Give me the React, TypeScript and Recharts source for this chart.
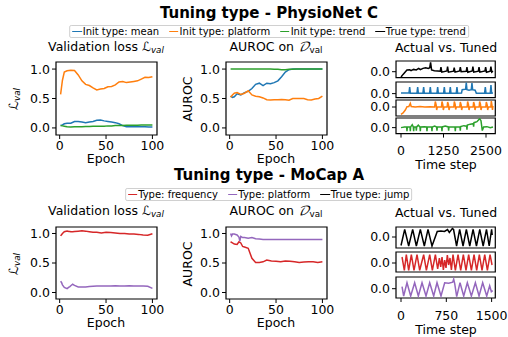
import React from "react";
import { LineChart, Line, XAxis, YAxis, ReferenceArea } from "recharts";

const FONT = "'DejaVu Sans', sans-serif";

const BLUE = "#1f77b4";
const ORANGE = "#ff7f0e";
const GREEN = "#2ca02c";
const RED = "#d62728";
const PURPLE = "#9467bd";
const BLACK = "#000000";

// ---- PhysioNet C: training curves ----
const PHYSIO_EPOCHS = [1, 3, 5, 8, 12, 16, 20, 24, 28, 32, 36, 40, 44, 48, 52, 56, 60, 64, 68, 72, 76, 80, 84, 88, 92, 96, 100];
const PHYSIO_LOSS_MEAN = [0.04, 0.05, 0.07, 0.08, 0.08, 0.11, 0.11, 0.1, 0.09, 0.1, 0.11, 0.13, 0.135, 0.12, 0.11, 0.1, 0.09, 0.07, 0.04, 0.02, 0.02, 0.02, 0.02, 0.02, 0.02, 0.015, 0.015];
const PHYSIO_LOSS_PLATFORM = [0.57, 0.81, 0.95, 0.97, 0.98, 0.975, 0.9, 0.8, 0.74, 0.72, 0.68, 0.645, 0.66, 0.67, 0.7, 0.705, 0.73, 0.78, 0.79, 0.77, 0.78, 0.79, 0.8, 0.83, 0.86, 0.855, 0.87];
const PHYSIO_LOSS_TREND = [0.04, 0.035, 0.03, 0.02, 0.015, 0.02, 0.02, 0.02, 0.025, 0.025, 0.03, 0.03, 0.03, 0.03, 0.035, 0.035, 0.04, 0.04, 0.04, 0.045, 0.045, 0.045, 0.045, 0.05, 0.05, 0.05, 0.05];
const PHYSIO_AUROC_MEAN = [0.54, 0.52, 0.53, 0.58, 0.56, 0.6, 0.62, 0.67, 0.74, 0.76, 0.72, 0.76, 0.75, 0.77, 0.8, 0.87, 0.95, 0.99, 1.0, 1.0, 1.0, 1.0, 1.0, 1.0, 1.0, 1.0, 1.0];
const PHYSIO_AUROC_PLATFORM = [0.52, 0.56, 0.59, 0.6, 0.57, 0.59, 0.63, 0.56, 0.54, 0.53, 0.51, 0.48, 0.475, 0.48, 0.48, 0.485, 0.48, 0.47, 0.5, 0.5, 0.5, 0.5, 0.48, 0.475, 0.49, 0.5, 0.54];
const PHYSIO_AUROC_TREND = [1, 1, 1, 1, 1, 1, 1, 1, 1, 1, 1, 1, 1, 0.995, 0.995, 0.99, 0.99, 0.995, 0.995, 1, 1, 1, 1, 1, 1, 1, 1];

// ---- PhysioNet C: actual vs tuned series, [time step, value] ----
const PHYSIO_TRUE_TREND: [number, number][] = [
  [0, -0.53], [60, -0.27], [130, 0], [175, 0.17], [255, 0.2], [295, 0.1], [370, 0.23], [450, 0.17], [520, 0.33], [570, 0.2],
  [645, 0.33], [725, 0.4], [805, 0.33], [845, 0.4], [870, 0.93], [900, 0.17], [980, 0.1], [1080, 0.07],
  [1155, 0.05], [1175, 0.45], [1200, -0.05], [1350, 0.07], [1370, 0.5], [1395, -0.05], [1545, 0.05], [1565, 0.4], [1590, -0.05],
  [1725, 0.07], [1745, 0.45], [1770, 0], [1920, 0.05], [1940, 0.45], [1965, -0.05], [2095, 0.07], [2115, 0.5], [2140, -0.05],
  [2275, 0.05], [2295, 0.45], [2320, -0.05], [2470, 0.07], [2490, 0.45], [2515, -0.05], [2625, 0.05], [2645, 0.5], [2670, -0.05], [2705, 0.05],
];
const PHYSIO_TUNED_MEAN: [number, number][] = [
  [0, 0.07], [235, 0.07], [255, 0.67], [275, 0.05], [470, 0.07], [490, 0.67], [510, 0.05], [646, 0.07], [666, 0.67], [686, 0.05],
  [842, 0.07], [862, 0.67], [882, 0.05], [1058, 0.07], [1078, 0.67], [1098, 0.05], [1254, 0.07], [1274, 0.67], [1294, 0.05],
  [1430, 0.07], [1450, 0.67], [1470, 0.05], [1626, 0.07], [1646, 0.67], [1666, 0.05], [1780, 0.07], [1800, 0.4], [1900, 0.45],
  [1920, 1.1], [1940, 0.4], [2000, 0.35], [2067, 0.4], [2087, 1.05], [2107, 0.4], [2180, 0.35], [2215, 0.05], [2460, 0.07],
  [2480, 0.67], [2500, 0.05], [2626, 0.07], [2646, 0.85], [2666, 0.05], [2705, 0.07],
];
const PHYSIO_TUNED_PLATFORM: [number, number][] = [
  [0, -0.73], [60, -0.6], [127, -0.3], [176, 0.03], [230, 0.05], [274, 0.37], [300, 0.05], [420, 0], [560, 0.04], [700, 0], [850, 0.03], [990, 0],
  [1009, 0.55], [1034, 0.2], [1049, -0.3], [1069, 0],
  [1190, 0], [1205, 0.55], [1230, 0.2], [1245, -0.3], [1265, 0],
  [1357, 0], [1372, 0.5], [1397, 0.2], [1412, -0.3], [1432, 0],
  [1553, 0], [1568, 0.55], [1593, 0.25], [1608, -0.25], [1628, 0],
  [1729, 0], [1744, 0.5], [1769, 0.2], [1784, -0.3], [1804, 0],
  [1945, 0], [1960, 0.55], [1985, 0.2], [2000, -0.3], [2020, 0],
  [2121, 0], [2136, 0.5], [2161, 0.2], [2176, -0.3], [2196, 0],
  [2298, 0], [2313, 0.55], [2338, 0.25], [2353, -0.3], [2373, 0],
  [2494, 0], [2509, 0.5], [2534, 0.2], [2549, -0.3], [2569, 0],
  [2641, 0], [2656, 0.6], [2675, 0.2], [2690, -0.3], [2705, 0.1],
];
const PHYSIO_TUNED_TREND: [number, number][] = [
  [0, 0], [100, 0.07], [166, 0.07], [176, -0.37], [186, 0.07], [264, 0.07], [274, -0.35], [284, 0.07], [330, 0.3],
  [362, 0.07], [372, -0.37], [382, 0.07], [441, 0.07], [451, -0.3], [461, 0.07], [510, 0.25], [558, 0.07], [568, -0.37], [578, 0.07],
  [680, 0.1], [754, 0.07], [764, -0.35], [774, 0.07], [901, 0.07], [911, -0.37], [921, 0.07], [990, 0.15],
  [1048, 0.07], [1058, -0.3], [1068, 0.07], [1195, 0.07], [1205, -0.37], [1215, 0.07], [1300, 0.15],
  [1391, 0.07], [1401, -0.3], [1411, 0.07], [1587, 0.07], [1597, -0.35], [1607, 0.07], [1734, 0.07], [1744, -0.3], [1754, 0.1],
  [1850, 0.2], [1930, 0.15], [1940, -0.2], [1950, 0.25], [2038, 0.35], [2126, 0.4], [2136, 0.1], [2146, 0.5], [2234, 0.6],
  [2313, 0.9], [2352, 0.7], [2391, -0.3], [2430, 0.07], [2528, 0.1], [2626, 0], [2705, 0.07],
];

// ---- MoCap A: training curves ----
const MOCAP_EPOCHS = [1, 2, 3, 5, 8, 10, 11, 12, 14, 16, 20, 24, 28, 32, 36, 40, 45, 50, 55, 60, 65, 70, 75, 80, 85, 90, 95, 100];
const MOCAP_LOSS_FREQUENCY = [0.96, 0.98, 1.0, 1.03, 1.04, 1.035, 1.035, 1.03, 1.03, 1.035, 1.04, 1.045, 1.04, 1.03, 1.02, 1.02, 1.01, 1.02, 1.015, 1.01, 1.0, 1.0, 0.99, 0.99, 0.985, 0.975, 0.97, 0.995];
const MOCAP_LOSS_PLATFORM = [0.19, 0.17, 0.13, 0.085, 0.065, 0.09, 0.1, 0.115, 0.14, 0.12, 0.095, 0.095, 0.095, 0.1, 0.105, 0.11, 0.11, 0.11, 0.11, 0.115, 0.11, 0.11, 0.115, 0.11, 0.11, 0.11, 0.105, 0.07];
const MOCAP_AUROC_FREQUENCY = [0.86, 0.85, 0.84, 0.82, 0.815, 0.86, 0.85, 0.84, 0.78, 0.77, 0.75, 0.58, 0.51, 0.51, 0.52, 0.55, 0.535, 0.53, 0.52, 0.535, 0.53, 0.52, 0.51, 0.515, 0.52, 0.52, 0.51, 0.52];
const MOCAP_AUROC_PLATFORM = [1.0, 0.96, 0.99, 0.99, 0.975, 0.94, 0.87, 0.95, 0.93, 0.93, 0.92, 0.93, 0.91, 0.905, 0.9, 0.9, 0.9, 0.9, 0.9, 0.9, 0.9, 0.9, 0.9, 0.9, 0.9, 0.9, 0.9, 0.9];

// ---- MoCap A: actual vs tuned series ----
const MOCAP_TRUE_JUMP: [number, number][] = [
  [0, -0.85], [61, 0.77], [127, -0.9], [193, 0.77], [254, -0.9], [320, 0.77], [386, -0.9], [447, 0.77], [513, -0.9],
  [600, 0.55], [660, 0.6], [720, 0.55], [770, 0.75], [800, 0.45], [850, 0.85], [870, 0.75], [920, -0.9],
  [971, 0.77], [1027, -0.9], [1082, 0.77], [1138, -0.9], [1193, 0.77], [1249, -0.9], [1304, 0.77], [1360, -0.9],
  [1415, 0.77], [1460, -0.9], [1500, 0.77], [1510, 0.2],
];
const MOCAP_TUNED_FREQUENCY: [number, number][] = [
  [17, 0.6], [55, -0.73], [88, 0.83], [127, -0.73], [171, 0.83], [215, -0.73], [265, 0.83], [309, -0.73], [375, 0.83],
  [420, -0.73], [475, 0.83], [519, -0.73], [569, 0.83], [607, -0.6], [635, 0.5], [657, -0.4], [679, 0.6], [701, -0.7],
  [723, 0.3], [745, -0.5], [767, 0.8], [789, -0.2], [811, 0.5], [834, -0.7], [861, 0.83], [900, -0.73], [944, 0.83],
  [988, -0.73], [1032, 0.83], [1076, -0.73], [1120, 0.83], [1165, -0.73], [1209, 0.83], [1253, -0.73], [1297, 0.83],
  [1341, -0.73], [1386, 0.83], [1430, -0.73], [1474, 0.83], [1507, -0.2],
];
const MOCAP_TUNED_PLATFORM: [number, number][] = [
  [17, 0.2], [44, -0.73], [99, 0.6], [160, -0.73], [226, 0.6], [287, -0.73], [348, 0.6], [414, -0.73], [475, 0.6],
  [541, -0.73], [596, 0.6], [662, -0.73], [723, 0.6], [789, 0.55], [856, 0.65], [872, 0.95], [889, 0.5], [922, -0.8],
  [977, 0.6], [1038, -0.73], [1098, 0.6], [1165, -0.73], [1231, 0.6], [1292, -0.73], [1352, 0.6], [1419, -0.73],
  [1468, 0.3], [1496, -0.3], [1518, -0.2],
];

const EPOCH_TICKS = [0, 50, 100];
const UNIT_TICKS = [0, 0.5, 1];
const PHYSIO_TIME_TICKS = [0, 1250, 2500];
const MOCAP_TIME_TICKS = [0, 750, 1500];
const ZERO_TICK = [0];

const PHYSIO_LEGEND: [string, string][] = [
  ["Init type: mean", BLUE],
  ["Init type: platform", ORANGE],
  ["Init type: trend", GREEN],
  ["True type: trend", BLACK],
];
const MOCAP_LEGEND: [string, string][] = [
  ["Type: frequency", RED],
  ["Type: platform", PURPLE],
  ["True type: jump", BLACK],
];

type Row = Record<string, number>;
type Series = { key: string; color: string };

const epochRows = (epochs: number[], cols: Record<string, number[]>): Row[] =>
  epochs.map((x, i) => {
    const row: Row = { x };
    for (const k of Object.keys(cols)) row[k] = cols[k][i];
    return row;
  });
const pairRows = (pairs: [number, number][]): Row[] => pairs.map(([x, v]) => ({ x, v }));

type PanelProps = {
  left: number;
  top: number;
  width: number;
  height: number;
  xDomain: [number, number];
  yDomain: [number, number];
  xTicks: number[];
  yTicks: number[];
  showX?: boolean;
  xTickMargin?: number;
  data: Row[];
  series: Series[];
};

const TICK_STYLE = { fill: "#000", fontSize: 12.5 };

function Panel({ left, top, width, height, xDomain, yDomain, xTicks, yTicks, showX = true, xTickMargin = 2.5, data, series }: PanelProps) {
  const yw = 44;
  const xh = showX ? 26 : 0;
  const pad = 2;
  const rightPad = 24; // room for the last x tick label
  return (
    <div style={{ position: "absolute", left: left - yw, top: top - pad }}>
      <LineChart
        width={width + yw + rightPad}
        height={height + xh + pad * 2}
        data={data}
        margin={{ top: pad, right: rightPad, bottom: pad, left: 0 }}
      >
        <XAxis
          type="number"
          dataKey="x"
          domain={xDomain}
          ticks={xTicks}
          interval={0}
          allowDataOverflow
          hide={!showX}
          height={xh}
          axisLine={false}
          tickLine={{ stroke: "#000" }}
          tickSize={4}
          tickMargin={xTickMargin}
          tick={TICK_STYLE}
        />
        <YAxis
          type="number"
          domain={yDomain}
          ticks={yTicks}
          interval={0}
          allowDataOverflow
          width={yw}
          axisLine={false}
          tickLine={{ stroke: "#000" }}
          tickSize={4}
          tickMargin={2}
          tick={TICK_STYLE}
          tickFormatter={(v: number) => v.toFixed(1)}
        />
        <ReferenceArea
          x1={xDomain[0]}
          x2={xDomain[1]}
          y1={yDomain[0]}
          y2={yDomain[1]}
          fill="none"
          stroke="#000"
          strokeWidth={1.2}
          ifOverflow="visible"
        />
        {series.map((s) => (
          <Line
            key={s.key}
            dataKey={s.key}
            stroke={s.color}
            strokeWidth={1.5}
            dot={false}
            isAnimationActive={false}
          />
        ))}
      </LineChart>
    </div>
  );
}

function Label({ x, y, children, size = 12.5, bold = false, rotate = false }: { x: number; y: number; children: React.ReactNode; size?: number; bold?: boolean; rotate?: boolean }) {
  return (
    <div
      style={{
        position: "absolute",
        left: x,
        top: y,
        transform: `translate(-50%, -50%)${rotate ? " rotate(-90deg)" : ""}`,
        fontSize: size,
        fontWeight: bold ? "bold" : "normal",
        whiteSpace: "nowrap",
        lineHeight: 1,
      }}
    >
      {children}
    </div>
  );
}

function LegendBox({ x, y, items }: { x: number; y: number; items: [string, string][] }) {
  return (
    <div
      style={{
        position: "absolute",
        left: x,
        top: y,
        transform: "translateX(-50%)",
        height: 11,
        display: "flex",
        alignItems: "center",
        gap: 10,
        padding: "0 2px",
        border: "1px solid #d0d0d0",
        borderRadius: 2,
        fontSize: 10,
        lineHeight: 1,
        whiteSpace: "nowrap",
        background: "#fff",
      }}
    >
      {items.map(([label, color]) => (
        <div key={label} style={{ display: "flex", alignItems: "center", gap: 1 }}>
          <span style={{ display: "inline-block", width: 9.5, height: 1.6, background: color }} />
          <span>{label}</span>
        </div>
      ))}
    </div>
  );
}

const LVal = () => (
  <span>
    ℒ<sub style={{ fontSize: "0.7em", fontStyle: "italic", verticalAlign: "-0.25em" }}>val</sub>
  </span>
);
const DVal = () => (
  <span>
    <span style={{ fontFamily: "'DejaVu Math TeX Gyre', 'DejaVu Serif', serif", fontStyle: "italic" }}>𝒟</span>
    <sub style={{ fontSize: "0.7em", verticalAlign: "-0.25em" }}>val</sub>
  </span>
);

const TS_LEFT = 395.7;
const TS_WIDTH = 99.3;
const PHYSIO_TIME_DOMAIN: [number, number] = [-147, 2773];
const MOCAP_TIME_DOMAIN: [number, number] = [-83, 1561];
const EPOCH_DOMAIN: [number, number] = [-3.95, 104.95];

export default function App() {
  const physioLoss = epochRows(PHYSIO_EPOCHS, { mean: PHYSIO_LOSS_MEAN, platform: PHYSIO_LOSS_PLATFORM, trend: PHYSIO_LOSS_TREND });
  const physioAuroc = epochRows(PHYSIO_EPOCHS, { mean: PHYSIO_AUROC_MEAN, platform: PHYSIO_AUROC_PLATFORM, trend: PHYSIO_AUROC_TREND });
  const mocapLoss = epochRows(MOCAP_EPOCHS, { frequency: MOCAP_LOSS_FREQUENCY, platform: MOCAP_LOSS_PLATFORM });
  const mocapAuroc = epochRows(MOCAP_EPOCHS, { frequency: MOCAP_AUROC_FREQUENCY, platform: MOCAP_AUROC_PLATFORM });
  const physioSeries: Series[] = [
    { key: "mean", color: BLUE },
    { key: "platform", color: ORANGE },
    { key: "trend", color: GREEN },
  ];
  const mocapSeries: Series[] = [
    { key: "frequency", color: RED },
    { key: "platform", color: PURPLE },
  ];
  const v = (color: string): Series[] => [{ key: "v", color }];

  return (
    <div style={{ position: "absolute", left: 0, top: 0, width: 508, height: 337, background: "#fff", fontFamily: FONT, color: "#000", overflow: "hidden" }}>
      {/* PhysioNet C */}
      <Label x={269} y={12.5} size={15} bold>Tuning type - PhysioNet C</Label>
      <LegendBox x={269} y={25} items={PHYSIO_LEGEND} />
      <Label x={106} y={47.5}>Validation loss <LVal /></Label>
      <Label x={276} y={47.5}>AUROC on <DVal /></Label>
      <Label x={446} y={48}>Actual vs. Tuned</Label>
      <Label x={15} y={99} rotate><LVal /></Label>
      <Label x={188} y={99} rotate>AUROC</Label>
      <Label x={106} y={158.5}>Epoch</Label>
      <Label x={276} y={158.5}>Epoch</Label>
      <Label x={446} y={165}>Time step</Label>

      <Panel left={56} top={62} width={101} height={73} xDomain={EPOCH_DOMAIN} yDomain={[-0.12, 1.12]} xTicks={EPOCH_TICKS} yTicks={UNIT_TICKS} data={physioLoss} series={physioSeries} />
      <Panel left={226} top={62} width={101} height={73} xDomain={EPOCH_DOMAIN} yDomain={[-0.12, 1.12]} xTicks={EPOCH_TICKS} yTicks={UNIT_TICKS} data={physioAuroc} series={physioSeries} />
      <Panel left={TS_LEFT} top={61} width={TS_WIDTH} height={16.7} xDomain={PHYSIO_TIME_DOMAIN} yDomain={[-0.6, 1.07]} xTicks={PHYSIO_TIME_TICKS} yTicks={ZERO_TICK} showX={false} data={pairRows(PHYSIO_TRUE_TREND)} series={v(BLACK)} />
      <Panel left={TS_LEFT} top={81.7} width={TS_WIDTH} height={15.6} xDomain={PHYSIO_TIME_DOMAIN} yDomain={[-0.4, 1.17]} xTicks={PHYSIO_TIME_TICKS} yTicks={ZERO_TICK} showX={false} data={pairRows(PHYSIO_TUNED_MEAN)} series={v(BLUE)} />
      <Panel left={TS_LEFT} top={100} width={TS_WIDTH} height={16} xDomain={PHYSIO_TIME_DOMAIN} yDomain={[-0.9, 0.7]} xTicks={PHYSIO_TIME_TICKS} yTicks={ZERO_TICK} showX={false} data={pairRows(PHYSIO_TUNED_PLATFORM)} series={v(ORANGE)} />
      <Panel left={TS_LEFT} top={117.7} width={TS_WIDTH} height={15.6} xDomain={PHYSIO_TIME_DOMAIN} yDomain={[-0.6, 0.97]} xTicks={PHYSIO_TIME_TICKS} yTicks={ZERO_TICK} xTickMargin={9} data={pairRows(PHYSIO_TUNED_TREND)} series={v(GREEN)} />

      {/* MoCap A */}
      <Label x={269} y={174.5} size={15} bold>Tuning type - MoCap A</Label>
      <LegendBox x={268.5} y={188} items={MOCAP_LEGEND} />
      <Label x={106} y={212}>Validation loss <LVal /></Label>
      <Label x={276} y={212}>AUROC on <DVal /></Label>
      <Label x={446} y={212.5}>Actual vs. Tuned</Label>
      <Label x={15} y={264} rotate><LVal /></Label>
      <Label x={188} y={264} rotate>AUROC</Label>
      <Label x={106} y={323}>Epoch</Label>
      <Label x={276} y={323}>Epoch</Label>
      <Label x={446} y={329.5}>Time step</Label>

      <Panel left={56} top={227.3} width={101} height={72} xDomain={EPOCH_DOMAIN} yDomain={[-0.11, 1.11]} xTicks={EPOCH_TICKS} yTicks={UNIT_TICKS} data={mocapLoss} series={mocapSeries} />
      <Panel left={226} top={227.3} width={101} height={72} xDomain={EPOCH_DOMAIN} yDomain={[-0.11, 1.11]} xTicks={EPOCH_TICKS} yTicks={UNIT_TICKS} data={mocapAuroc} series={mocapSeries} />
      <Panel left={TS_LEFT} top={226.7} width={TS_WIDTH} height={21} xDomain={MOCAP_TIME_DOMAIN} yDomain={[-1.1, 1.0]} xTicks={MOCAP_TIME_TICKS} yTicks={ZERO_TICK} showX={false} data={pairRows(MOCAP_TRUE_JUMP)} series={v(BLACK)} />
      <Panel left={TS_LEFT} top={251.7} width={TS_WIDTH} height={20} xDomain={MOCAP_TIME_DOMAIN} yDomain={[-0.9, 1.1]} xTicks={MOCAP_TIME_TICKS} yTicks={ZERO_TICK} showX={false} data={pairRows(MOCAP_TUNED_FREQUENCY)} series={v(RED)} />
      <Panel left={TS_LEFT} top={276.7} width={TS_WIDTH} height={21} xDomain={MOCAP_TIME_DOMAIN} yDomain={[-0.93, 1.17]} xTicks={MOCAP_TIME_TICKS} yTicks={ZERO_TICK} xTickMargin={9} data={pairRows(MOCAP_TUNED_PLATFORM)} series={v(PURPLE)} />
    </div>
  );
}
